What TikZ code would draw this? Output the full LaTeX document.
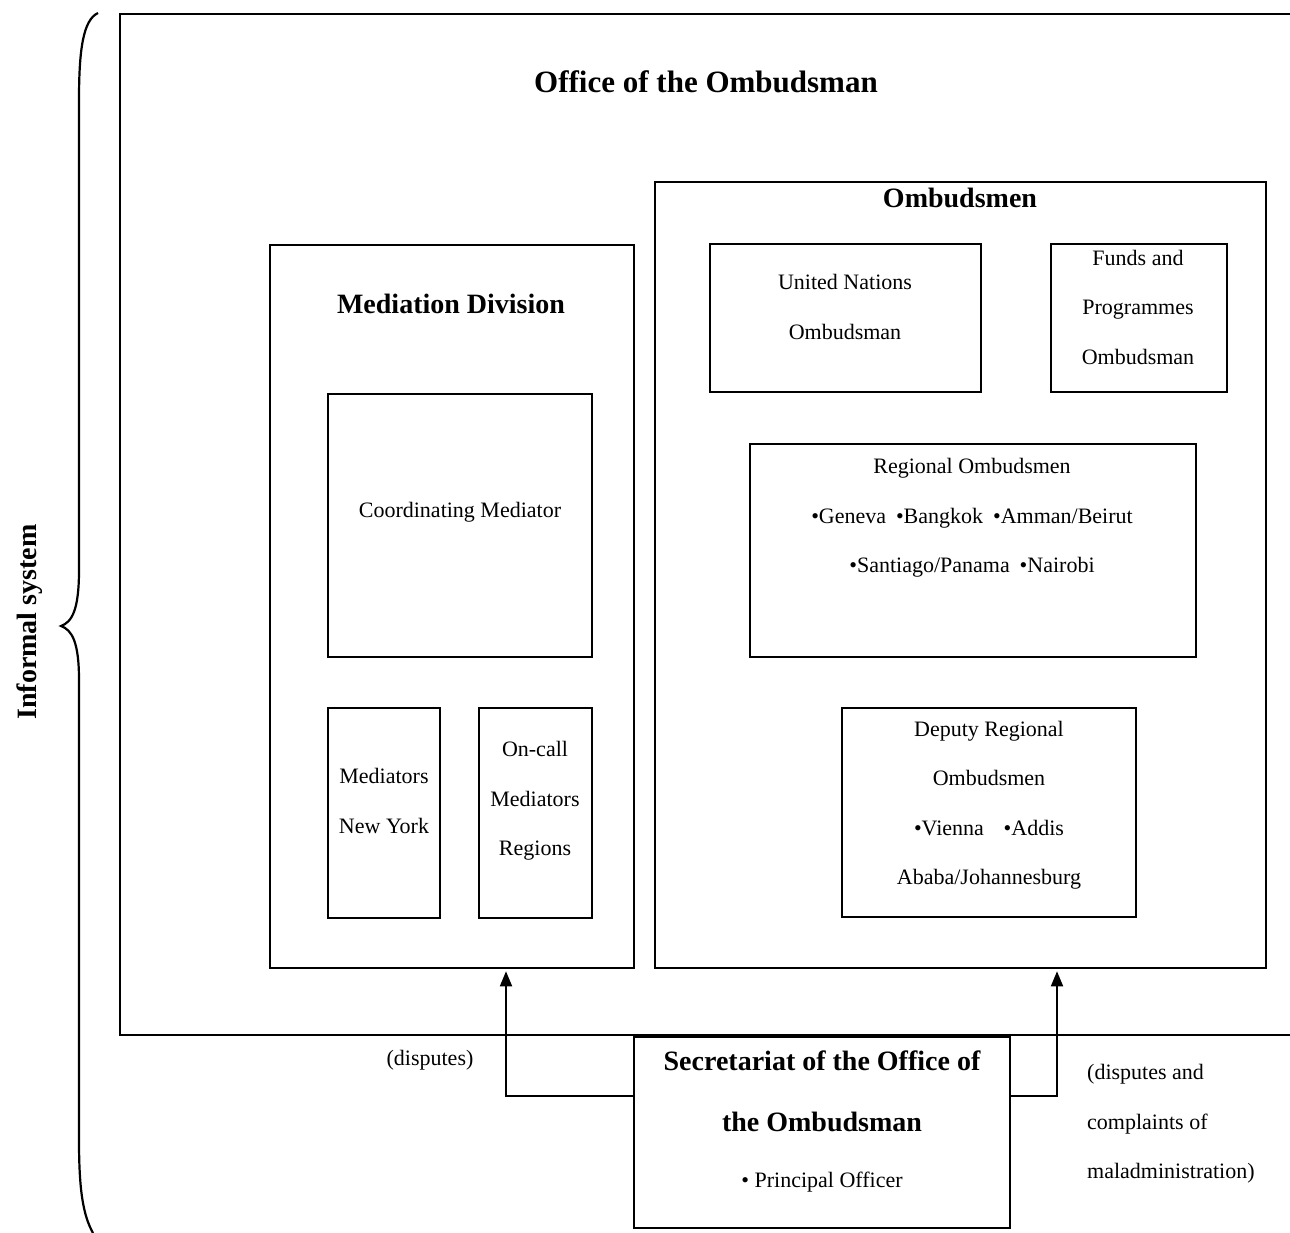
\documentclass[tikz,border=0pt]{standalone}
\usepackage{fontspec}
\setmainfont{Liberation Serif}
\usetikzlibrary{arrows.meta,positioning,calc,fit}
\tikzset{
  box/.style={draw=black,line width=2.6pt,inner sep=0pt},
  txt/.style={align=center,font=\fontsize{22}{49.5}\selectfont,inner sep=0pt},
  head/.style={align=center,font=\fontsize{28}{61}\selectfont\bfseries,inner sep=0pt},
  arr/.style={-{Triangle[length=15pt,width=12pt]},line width=1.8pt,shorten >=2pt},
}
\begin{document}
\begin{tikzpicture}[x=1pt,y=-1pt]
  \useasboundingbox (0,0) rectangle (1290,1233);
  % --- outer frame and brace
  \coordinate (otr) at (1290,14);
  \coordinate (otl) at (120,14);
  \coordinate (obl) at (120,1035);
  \coordinate (obr) at (1290,1035);
  \draw[line width=2.8pt] (otr) -- (otl) -- (obl) -- (obr);
  \draw[line width=2.2pt] (98,13) .. controls (83,20) and (79,50) .. (79,100) -- (79,570)
    .. controls (79,610) and (72,622) .. (61,626) .. controls (72,630) and (79,642) .. (79,680)
    -- (79,1140) .. controls (79,1190) and (83,1215) .. (93,1233);
  \node[head,rotate=90] (informal) at (30,622) {Informal system};
  \node[head,font=\fontsize{31}{36}\selectfont\bfseries] (office) at (706,82) {Office of the Ombudsman};
  % --- boxes
  \foreach \n/\a/\b in {med/{270,245}/{634,968}, coord/{328,394}/{592,657}, mny/{328,708}/{440,918},
      oncall/{479,708}/{592,918}, omb/{655,182}/{1266,968}, un/{710,244}/{981,392},
      funds/{1051,244}/{1227,392}, reg/{750,444}/{1196,657}, dep/{842,708}/{1136,917},
      sec/{634,1037}/{1010,1228}} {
    \node[box,fit={(\a) (\b)}] (\n) {};
  }
  % --- Mediation Division
  \node[head] (medhead) at (451,304) {Mediation Division};
  \node[txt] (coordtxt) at (460,512) {Coordinating Mediator};
  \node[txt] (mnytxt) at (384,801) {Mediators\\New York};
  \node[txt] (oncalltxt) at (535,801) {On-call\\Mediators\\Regions};
  % --- Ombudsmen
  \node[head] (ombhead) at (960,198) {Ombudsmen};
  \node[txt] (untxt) at (845,307) {United Nations\\Ombudsman};
  \node[txt] (fundstxt) at (1138,307) {Funds and\\Programmes\\Ombudsman};
  \node[txt] (regtxt) at (972,518) {Regional Ombudsmen\\
    •Geneva\hspace{0.45em}•Bangkok\hspace{0.45em}•Amman/Beirut\\
    •Santiago/Panama\hspace{0.45em}•Nairobi};
  \node[txt] (deptxt) at (989,805) {Deputy Regional\\Ombudsmen\\•Vienna\hspace{0.9em}•Addis\\Ababa/Johannesburg};
  % --- Secretariat
  \node[head] (secttl) at (822,1091) {Secretariat of the Office of\\the Ombudsman};
  \node[txt] (secitem) at (822,1182) {• Principal Officer};
  \draw[arr] (sec.west |- 0,1096) -| (med.south -| 506,0);
  \draw[arr] (sec.east |- 0,1096) -| (omb.south -| 1057,0);
  \node[txt] (disp) at (430,1060) {(disputes)};
  \node[txt,align=left,anchor=west] (dispcomp) at (1087,1124) {(disputes and\\complaints of\\maladministration)};
\end{tikzpicture}
\end{document}
